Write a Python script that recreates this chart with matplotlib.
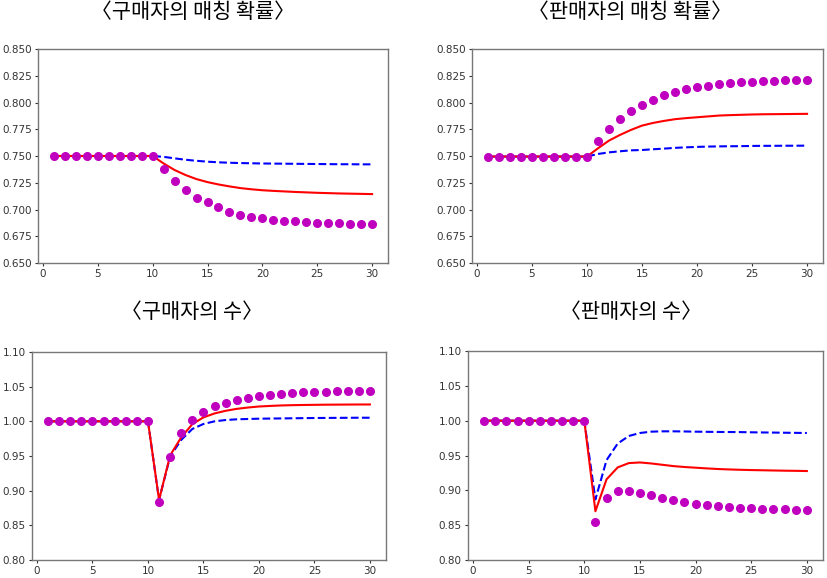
import matplotlib
matplotlib.use("Agg")
import matplotlib.pyplot as plt

plt.rcParams["font.family"] = ["DejaVu Sans", "Noto Sans CJK KR"]

t = list(range(1, 31))

# buyer matching probability
buy_prob_dots = [0.750] * 10 + [0.7378, 0.7269, 0.7184, 0.7109, 0.7066, 0.7019, 0.6981, 0.6953, 0.6934, 0.6916,
                                0.6906, 0.6891, 0.6888, 0.6881, 0.6872, 0.6872, 0.6872, 0.6863, 0.6863, 0.6863]
buy_prob_red = [0.750] * 10 + [0.7430, 0.7369, 0.7322, 0.7284, 0.7256, 0.7234, 0.7216, 0.7200, 0.7189, 0.7180,
                               0.7174, 0.7169, 0.7164, 0.7160, 0.7156, 0.7153, 0.7150, 0.7148, 0.7146, 0.7144]
buy_prob_blue = [0.750] * 10 + [0.7492, 0.7478, 0.7465, 0.7455, 0.7447, 0.7441, 0.7437, 0.7434, 0.7432, 0.7430,
                                0.7429, 0.7428, 0.7427, 0.7426, 0.7425, 0.7424, 0.7423, 0.7423, 0.7422, 0.7422]

# seller matching probability
sell_prob_dots = [0.7495] * 10 + [0.7638, 0.7750, 0.7844, 0.7916, 0.7981, 0.8028, 0.8072, 0.8100, 0.8128, 0.8144,
                                  0.8156, 0.8172, 0.8181, 0.8194, 0.8194, 0.8200, 0.8203, 0.8209, 0.8213, 0.8213]
sell_prob_red = [0.7495] * 10 + [0.7572, 0.7644, 0.7697, 0.7744, 0.7784, 0.7809, 0.7828, 0.7844, 0.7854, 0.7862,
                                 0.7870, 0.7878, 0.7882, 0.7885, 0.7888, 0.7890, 0.7891, 0.7892, 0.7893, 0.7894]
sell_prob_blue = [0.7495] * 10 + [0.7519, 0.7534, 0.7544, 0.7553, 0.7556, 0.7563, 0.7569, 0.7576, 0.7581, 0.7585,
                                  0.7588, 0.7590, 0.7591, 0.7592, 0.7594, 0.7595, 0.7595, 0.7596, 0.7596, 0.7597]

# number of buyers
buy_n_dots = [1.0] * 10 + [0.8843, 0.9480, 0.9829, 1.0019, 1.0129, 1.0214, 1.0271, 1.0310, 1.0338, 1.0367,
                           1.0381, 1.0395, 1.0405, 1.0419, 1.0419, 1.0419, 1.0433, 1.0433, 1.0433, 1.0433]
buy_n_red = [1.0] * 10 + [0.8867, 0.9510, 0.9770, 0.9960, 1.0057, 1.0114, 1.0152, 1.0180, 1.0199, 1.0214,
                          1.0222, 1.0229, 1.0233, 1.0236, 1.0238, 1.0240, 1.0241, 1.0242, 1.0243, 1.0243]
buy_n_blue = [1.0] * 10 + [0.8867, 0.9495, 0.9733, 0.9890, 0.9962, 1.0000, 1.0019, 1.0029, 1.0034, 1.0038,
                           1.0040, 1.0042, 1.0044, 1.0046, 1.0048, 1.0049, 1.0050, 1.0051, 1.0052, 1.0052]

# number of sellers
sell_n_dots = [1.0] * 10 + [0.8551, 0.8883, 0.8997, 0.8997, 0.8964, 0.8926, 0.8883, 0.8860, 0.8826, 0.8803,
                            0.8788, 0.8774, 0.8765, 0.8750, 0.8750, 0.8736, 0.8736, 0.8736, 0.8722, 0.8722]
sell_n_red = [1.0] * 10 + [0.8700, 0.9158, 0.9329, 0.9391, 0.9400, 0.9386, 0.9367, 0.9348, 0.9335, 0.9325,
                           0.9315, 0.9306, 0.9300, 0.9295, 0.9291, 0.9288, 0.9285, 0.9282, 0.9280, 0.9277]
sell_n_blue = [1.0] * 10 + [0.8870, 0.9434, 0.9671, 0.9780, 0.9823, 0.9842, 0.9847, 0.9847, 0.9845, 0.9842,
                            0.9840, 0.9838, 0.9837, 0.9836, 0.9833, 0.9831, 0.9829, 0.9827, 0.9825, 0.9823]

titles = ["〈구매자의 매칭 확률〉", "〈판매자의 매칭 확률〉", "〈구매자의 수〉", "〈판매자의 수〉"]
series = [
    (buy_prob_dots, buy_prob_red, buy_prob_blue),
    (sell_prob_dots, sell_prob_red, sell_prob_blue),
    (buy_n_dots, buy_n_red, buy_n_blue),
    (sell_n_dots, sell_n_red, sell_n_blue),
]
ylims = [(0.65, 0.85), (0.65, 0.85), (0.80, 1.10), (0.80, 1.10)]
yticks = [[0.65 + 0.025 * i for i in range(9)]] * 2 + [[0.80 + 0.05 * i for i in range(7)]] * 2
yfmt = ["{:.3f}", "{:.3f}", "{:.2f}", "{:.2f}"]

# axes boxes in pixels: left, right, top, bottom
W, H = 827, 578
boxes = [(38, 388, 49, 263), (472, 823, 49, 263), (32, 386, 352, 560), (468, 823, 351, 560)]
title_pos = [(193, 12), (630, 12), (192, 312), (631, 312)]

fig = plt.figure(figsize=(W / 100, H / 100), dpi=100)
spine_col = "#777777"

for i in range(4):
    l, r, tp, b = boxes[i]
    ax = fig.add_axes([l / W, 1 - b / H, (r - l) / W, (b - tp) / H])
    dots, red, blue = series[i]
    ax.plot(t, blue, "b--", linewidth=1.5)
    ax.plot(t, red, "r-", linewidth=1.5)
    ax.plot(t, dots, "mo", markersize=5.5, linestyle="none")
    ax.set_ylim(*ylims[i])
    ax.set_xticks([0, 5, 10, 15, 20, 25, 30])
    ax.set_yticks(yticks[i])
    ax.set_yticklabels([yfmt[i].format(v) for v in yticks[i]])
    ax.tick_params(labelsize=7.5, colors="#333333", length=2.5, width=0.8, pad=2)
    for s in ax.spines.values():
        s.set_color(spine_col)
        s.set_linewidth(1.0)
    fig.text(title_pos[i][0] / W, 1 - title_pos[i][1] / H, titles[i],
             ha="center", va="center", fontsize=15,
             family=["Noto Sans CJK KR", "DejaVu Sans"])

fig.savefig("out.png", dpi=100)
